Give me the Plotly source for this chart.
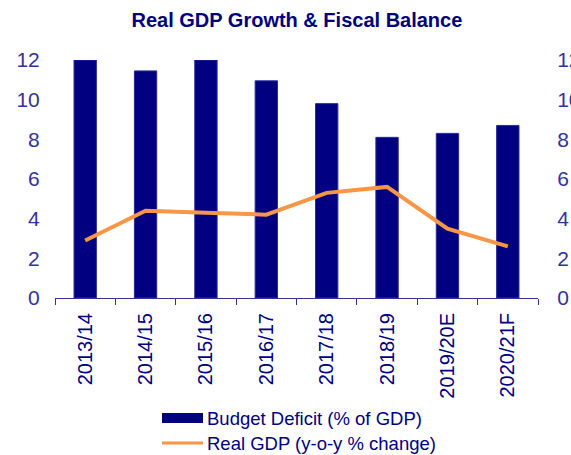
import plotly.graph_objects as go

# Fiscal years and series
years = ["2013/14", "2014/15", "2015/16", "2016/17", "2017/18", "2018/19", "2019/20E", "2020/21F"]
budget_deficit = [12.0, 11.45, 12.0, 10.95, 9.8, 8.1, 8.3, 8.7]
real_gdp = [2.9, 4.4, 4.3, 4.2, 5.3, 5.6, 3.5, 2.6]
y_ticks = [0, 2, 4, 6, 8, 10, 12]

NAVY = "#000080"
TICK_BLUE = "#333399"
ORANGE = "#F79646"
FONT = "Liberation Sans, Arial, sans-serif"

fig = go.Figure()

fig.add_trace(go.Bar(
    x=years, y=budget_deficit, name="Budget Deficit (% of GDP)",
    marker=dict(color=NAVY, line=dict(color="#2a2a9a", width=1)),
    showlegend=False,
))
fig.add_trace(go.Scatter(
    x=years, y=real_gdp, name="Real GDP (y-o-y % change)", yaxis="y2",
    mode="lines", line=dict(color=ORANGE, width=4),
    showlegend=False,
))

axis_font = dict(family=FONT, size=21, color=TICK_BLUE)

fig.update_layout(
    width=571, height=455,
    margin=dict(l=55, r=33, t=60, b=157),
    paper_bgcolor="white", plot_bgcolor="white",
    bargap=0.63,
    title=dict(text="<b>Real GDP Growth & Fiscal Balance</b>",
               font=dict(family=FONT, size=20, color=NAVY),
               x=0.52, xanchor="center", y=0.955, yanchor="middle"),
    xaxis=dict(
        type="category", showline=True, linecolor=TICK_BLUE, linewidth=1,
        ticks="outside", tickson="boundaries", ticklen=6, tickcolor=TICK_BLUE,
        tickangle=-90, tickfont=dict(family=FONT, size=20, color=NAVY),
        ticklabelstandoff=6, automargin=False,
        showgrid=False, zeroline=False,
    ),
    yaxis=dict(
        range=[0, 12], tickvals=y_ticks, showgrid=False, zeroline=False,
        showline=False, ticks="outside", ticklen=10, tickcolor="rgba(0,0,0,0)",
        tickfont=axis_font, automargin=False,
    ),
    yaxis2=dict(
        range=[0, 12], tickvals=y_ticks, overlaying="y", side="right",
        showgrid=False, zeroline=False, showline=False,
        ticks="outside", ticklen=14, tickcolor="rgba(0,0,0,0)",
        tickfont=axis_font, automargin=False,
    ),
)

# Legend drawn below the plot: swatch + label per series
legend_items = [
    ("Budget Deficit (% of GDP)", "bar", NAVY),
    ("Real GDP (y-o-y % change)", "line", ORANGE),
]
legend_rows_px = [418, 443]
plot_w = 571 - 55 - 33
plot_h = 455 - 60 - 157
for (label, kind, color), row in zip(legend_items, legend_rows_px):
    yp = 1 - (row - 60) / plot_h
    x0 = (162 - 55) / plot_w
    x1 = (203 - 55) / plot_w
    if kind == "bar":
        half = 5 / plot_h
        fig.add_shape(type="rect", xref="paper", yref="paper",
                      x0=x0, x1=x1, y0=yp - half, y1=yp + half,
                      fillcolor=color, line=dict(width=0))
    else:
        fig.add_shape(type="line", xref="paper", yref="paper",
                      x0=x0, x1=x1, y0=yp, y1=yp,
                      line=dict(color=color, width=3))
    fig.add_annotation(text=label, xref="paper", yref="paper",
                       x=(205 - 55) / plot_w, y=yp,
                       xanchor="left", yanchor="middle", showarrow=False,
                       font=dict(family=FONT, size=18.5, color=NAVY))

fig.write_html("out.html")
